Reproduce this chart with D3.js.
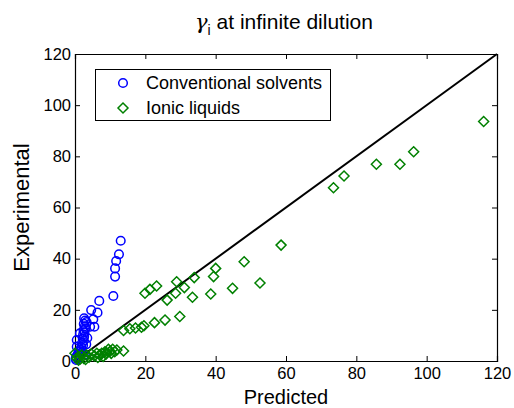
<!DOCTYPE html>
<html>
<head>
<meta charset="utf-8">
<script src="https://cdn.jsdelivr.net/npm/d3@7"></script>
<style>
  html, body { margin: 0; padding: 0; background: #fff; }
  svg { display: block; font-family: "Liberation Sans", Arial, sans-serif; }
</style>
</head>
<body>
<svg id="chart" width="514" height="408"></svg>
<script>
// Predicted vs experimental activity coefficients at infinite dilution
const xTicks = [0, 20, 40, 60, 80, 100, 120];
const yTicks = [0, 20, 40, 60, 80, 100, 120];
const seriesNames = ["Conventional solvents", "Ionic liquids"];

// [predicted, experimental]
const conventionalSolvents = [
  [13.0, 47.0], [12.5, 41.7], [11.7, 39.1], [11.4, 36.2], [11.4, 33.0],
  [10.9, 25.4], [6.9, 23.5], [6.4, 18.9], [4.6, 19.9], [5.2, 16.3],
  [5.5, 13.4], [4.3, 13.4], [2.6, 16.7], [2.9, 15.8], [3.3, 15.2],
  [2.5, 14.5], [2.8, 13.6], [3.0, 12.8], [2.4, 12.0], [2.7, 11.2],
  [2.3, 10.3], [2.6, 9.5], [2.2, 8.7], [2.5, 7.9], [2.0, 7.0],
  [2.3, 6.2], [1.8, 5.4], [1.4, 10.8], [0.5, 8.2], [0.5, 5.6],
  [1.5, 4.5], [1.0, 3.5], [0.8, 2.6], [0.4, 1.8], [0.2, 1.0],
  [1.9, 3.3], [2.8, 2.5], [0.3, 0.4], [3.5, 9.0], [3.2, 6.5]
];

const ionicLiquids = [
  [116.2, 93.6], [96.3, 81.8], [92.4, 76.9], [85.7, 76.9], [76.5, 72.3],
  [73.5, 67.7], [58.6, 45.3], [48.1, 38.8], [52.6, 30.5], [44.8, 28.4],
  [40.0, 36.2], [39.4, 33.0], [33.9, 32.6], [31.1, 28.7], [38.6, 26.2],
  [33.4, 24.9], [28.9, 31.0], [28.6, 26.5], [26.2, 23.8], [29.8, 17.4],
  [25.6, 16.0], [23.2, 29.3], [21.3, 28.0], [19.9, 26.5], [22.6, 15.0],
  [19.6, 13.8], [18.9, 13.2], [17.2, 12.9], [15.6, 12.6], [13.8, 11.9],
  [13.8, 3.9], [11.3, 3.6], [11.9, 4.3], [10.7, 4.6], [9.5, 4.6],
  [8.5, 3.6], [7.6, 3.0], [6.2, 3.0], [4.7, 2.7], [3.3, 2.3],
  [1.9, 2.3], [0.9, 1.7], [0.5, 1.0], [0.0, 3.0], [5.5, 2.0],
  [7.0, 2.4], [8.0, 1.8], [9.0, 3.2], [10.0, 3.8], [4.0, 1.5],
  [2.5, 1.0], [1.5, 0.8], [3.0, 0.6], [6.5, 1.4], [1.0, 0.3],
  [8.8, 2.7], [10.3, 3.0]
];

const svg = d3.select("#chart");
const plotLeft = 75, plotRight = 497, plotTop = 54, plotBottom = 361;

const x = d3.scaleLinear().domain([0, 120]).range([plotLeft, plotRight]);
const y = d3.scaleLinear().domain([0, 120]).range([plotBottom, plotTop]);

// Title with subscripted gamma
const title = svg.append("text")
  .attr("x", 284).attr("y", 29)
  .attr("text-anchor", "middle")
  .attr("font-size", 21)
  .attr("fill", "#000");
title.append("tspan").attr("font-family", "DejaVu Serif, serif").attr("font-style", "italic").text("γ");
title.append("tspan").attr("font-size", 14).attr("dy", 6).text("i");
title.append("tspan").attr("dy", -6).text(" at infinite dilution");

// Axes (ticks inward on all four sides)
const tickLen = 5;
const gx = svg.append("g").attr("transform", `translate(0,${plotBottom})`)
  .call(d3.axisBottom(x).tickValues(xTicks).tickSize(-tickLen).tickPadding(6).tickFormat(d3.format("d")));
const gxTop = svg.append("g").attr("transform", `translate(0,${plotTop})`)
  .call(d3.axisTop(x).tickValues(xTicks).tickSize(-tickLen).tickFormat(""));
const gy = svg.append("g").attr("transform", `translate(${plotLeft},0)`)
  .call(d3.axisLeft(y).tickValues(yTicks).tickSize(-tickLen).tickPadding(4).tickFormat(d3.format("d")));
const gyRight = svg.append("g").attr("transform", `translate(${plotRight},0)`)
  .call(d3.axisRight(y).tickValues(yTicks).tickSize(-tickLen).tickFormat(""));

[gx, gxTop, gy, gyRight].forEach(g => {
  g.select(".domain").attr("stroke", "#000").attr("stroke-width", 1.2);
  g.selectAll(".tick line").attr("stroke", "#000").attr("stroke-width", 1);
  g.selectAll(".tick text").attr("font-size", 16.5).attr("fill", "#000")
    .attr("font-family", "Liberation Sans, Arial, sans-serif");
});

// Axis labels
svg.append("text")
  .attr("x", x(60)).attr("y", 403.5)
  .attr("text-anchor", "middle")
  .attr("font-size", 20).attr("fill", "#000")
  .text("Predicted");
svg.append("text")
  .attr("transform", `translate(29,${y(60)}) rotate(-90)`)
  .attr("text-anchor", "middle")
  .attr("font-size", 22).attr("fill", "#000")
  .text("Experimental");

// Parity line
svg.append("line")
  .attr("x1", x(0)).attr("y1", y(0))
  .attr("x2", x(120)).attr("y2", y(120))
  .attr("stroke", "#000").attr("stroke-width", 2);

const blue = "#0000ff", green = "#008000";
const diamond = (cx, cy, r) => `M${cx},${cy - r}L${cx + r},${cy}L${cx},${cy + r}L${cx - r},${cy}Z`;

svg.append("g").selectAll("circle").data(conventionalSolvents).join("circle")
  .attr("cx", d => x(d[0])).attr("cy", d => y(d[1])).attr("r", 4.3)
  .attr("fill", "none").attr("stroke", blue).attr("stroke-width", 1.5);

svg.append("g").selectAll("path").data(ionicLiquids).join("path")
  .attr("d", d => diamond(x(d[0]), y(d[1]), 5))
  .attr("fill", "none").attr("stroke", green).attr("stroke-width", 1.5);

// Legend
const lg = svg.append("g");
lg.append("rect").attr("x", 95.5).attr("y", 69.5).attr("width", 235).attr("height", 51)
  .attr("fill", "#fff").attr("stroke", "#000").attr("stroke-width", 1);
lg.append("circle").attr("cx", 123).attr("cy", 83).attr("r", 4.3)
  .attr("fill", "none").attr("stroke", blue).attr("stroke-width", 1.5);
lg.append("path").attr("d", diamond(123, 108, 5))
  .attr("fill", "none").attr("stroke", green).attr("stroke-width", 1.5);
lg.append("text").attr("x", 146).attr("y", 89).attr("font-size", 18).attr("fill", "#000").text(seriesNames[0]);
lg.append("text").attr("x", 146).attr("y", 114).attr("font-size", 18).attr("fill", "#000").text(seriesNames[1]);
</script>
</body>
</html>
